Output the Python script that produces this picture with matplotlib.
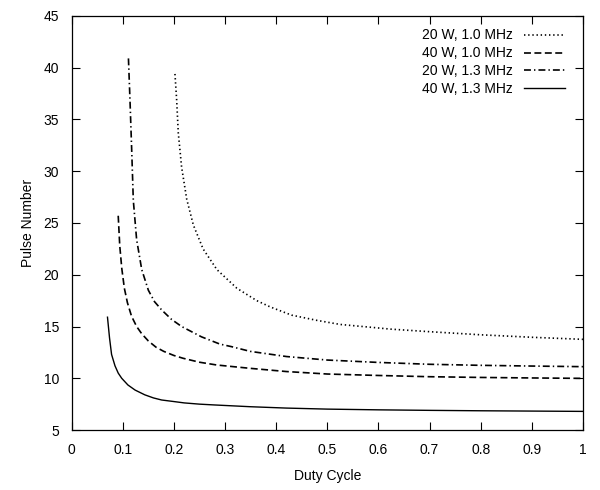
import numpy as np
import matplotlib
matplotlib.use('Agg')
import matplotlib.pyplot as plt

plt.rcParams['font.family'] = ['Liberation Sans', 'DejaVu Sans']
plt.rcParams['lines.scale_dashes'] = False

# values
x_20w_10 = [0.202, 0.2053, 0.2085, 0.215, 0.225, 0.238, 0.257, 0.284, 0.323, 0.362, 0.388, 0.43, 0.479, 0.525, 0.58, 0.623, 0.70, 0.80, 0.90, 1.0]
y_20w_10 = [39.4, 36.9, 33.7, 30.4, 27.3, 24.8, 22.5, 20.5, 18.7, 17.5, 16.9, 16.1, 15.6, 15.2, 14.95, 14.75, 14.5, 14.2, 13.96, 13.76]

x_40w_10 = [0.091, 0.094, 0.098, 0.103, 0.109, 0.117, 0.127, 0.137, 0.15, 0.165, 0.18, 0.20, 0.218, 0.25, 0.284, 0.349, 0.42, 0.5, 0.6, 0.7, 0.8, 0.9, 1.0]
y_40w_10 = [25.7, 22.8, 20.6, 18.7, 17.3, 16.0, 15.0, 14.3, 13.6, 13.0, 12.6, 12.2, 11.93, 11.55, 11.28, 10.96, 10.65, 10.41, 10.27, 10.15, 10.08, 10.03, 9.99]

x_20w_13 = [0.111, 0.114, 0.1174, 0.1205, 0.127, 0.137, 0.15, 0.162, 0.176, 0.195, 0.215, 0.254, 0.29, 0.313, 0.349, 0.42, 0.5, 0.6, 0.7, 0.8, 0.9, 1.0]
y_20w_13 = [40.9, 36.9, 32.0, 27.2, 23.4, 20.5, 18.5, 17.4, 16.6, 15.7, 15.0, 14.0, 13.3, 13.05, 12.6, 12.1, 11.76, 11.53, 11.35, 11.25, 11.18, 11.12]

x_40w_13 = [0.070, 0.074, 0.078, 0.0847, 0.091, 0.0978, 0.11, 0.124, 0.143, 0.16, 0.176, 0.20, 0.22, 0.25, 0.28, 0.35, 0.42, 0.5, 0.6, 0.7, 0.8, 0.9, 1.0]
y_40w_13 = [15.9, 13.9, 12.3, 11.2, 10.5, 10.0, 9.35, 8.86, 8.4, 8.1, 7.9, 7.75, 7.62, 7.5, 7.42, 7.25, 7.12, 7.02, 6.95, 6.9, 6.86, 6.83, 6.8]

labels = ['20 W, 1.0 MHz', '40 W, 1.0 MHz', '20 W, 1.3 MHz', '40 W, 1.3 MHz']

fig = plt.figure(figsize=(6, 4.9), dpi=100)
ax = fig.add_axes([0.1195, 0.1224, 0.852, 0.845])

ax.plot(x_20w_10, y_20w_10, color='black', lw=1.2, linestyle=(0, (1.0, 2.0)), label=labels[0])
ax.plot(x_40w_10, y_40w_10, color='black', lw=1.2, linestyle=(0, (5.0, 2.5)), label=labels[1])
ax.plot(x_20w_13, y_20w_13, color='black', lw=1.2, linestyle=(0, (5.0, 2.2, 1.0, 2.2)), label=labels[2])
ax.plot(x_40w_13, y_40w_13, color='black', lw=1.0, linestyle='-', label=labels[3])

ax.set_xlim(0, 1)
ax.set_ylim(5, 45)
ax.set_xticks(np.arange(0, 1.01, 0.1))
ax.set_xticklabels(['0', '0.1', '0.2', '0.3', '0.4', '0.5', '0.6', '0.7', '0.8', '0.9', '1'])
ax.set_yticks(np.arange(5, 46, 5))
ax.tick_params(direction='in', length=6, width=0.8, top=True, right=True, labelsize=10, pad=9, colors='black')
for s in ax.spines.values():
    s.set_linewidth(0.9)

ax.set_xlabel('Duty Cycle', fontsize=10, labelpad=9)
ax.set_ylabel('Pulse Number', fontsize=10, labelpad=6)

ax.legend(loc='upper right', frameon=False, markerfirst=False, fontsize=10,
          handlelength=3.0, handletextpad=0.8, labelspacing=0.28,
          bbox_to_anchor=(0.99, 1.0))

fig.savefig('out.png', dpi=100)
